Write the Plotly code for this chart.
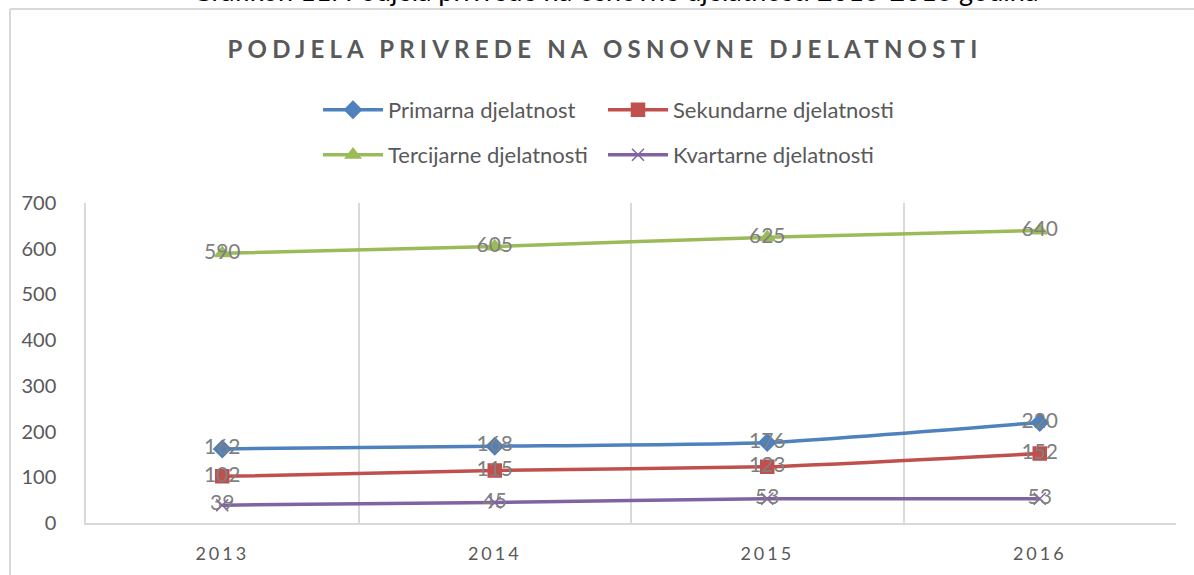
import plotly.graph_objects as go

# 데이터
years = ["2013", "2014", "2015", "2016"]
primarna = [162, 168, 176, 220]
sekundarne = [102, 115, 123, 152]
tercijarne = [590, 605, 625, 640]
kvartarne = [39, 45, 53, 53]

W, H = 1194, 575
L, R, T, B = 86, 18, 203, 52
PH = H - T - B
PW = W - L - R


def py(p):
    # pixel row -> paper y
    return (H - B - p) / PH


def px(p):
    # pixel column -> paper x
    return (p - L) / PW


FONT = "Lato"
GRAY = "#595959"
LABEL = "#7f7f7f"

fig = go.Figure()

# (ime, vrijednosti, boja, simbol, velicina, legenda, polozaj legende u px)
series = [
    ("Primarna djelatnost", primarna, "#4f81bd", "diamond", 13, "legend", (318, 110)),
    ("Sekundarne djelatnosti", sekundarne, "#c0504d", "square", 13, "legend2", (603, 110)),
    ("Tercijarne djelatnosti", tercijarne, "#9bbb59", "triangle-up", 13, "legend3", (318, 155)),
    ("Kvartarne djelatnosti", kvartarne, "#8064a2", "x-thin-open", 12, "legend4", (603, 155)),
]

legends = {}
for name, vals, color, sym, size, leg, (lx, ly) in series:
    fig.add_trace(go.Scatter(
        x=years, y=vals, name=name, legend=leg,
        mode="lines+markers+text",
        line=dict(color=color, width=3.5, shape="spline", smoothing=0.5),
        marker=dict(symbol=sym, size=size, color=color,
                    line=dict(color=color, width=1.5)),
        text=[str(v) for v in vals],
        textposition="middle center",
        textfont=dict(family=FONT, size=21, color=LABEL),
        cliponaxis=False,
    ))
    legends[leg] = dict(
        x=px(lx), xanchor="left", y=py(ly), yanchor="middle",
        itemwidth=60, bgcolor="rgba(0,0,0,0)",
        font=dict(family=FONT, size=22, color=GRAY),
    )

fig.update_layout(
    width=W, height=H,
    margin=dict(l=L, r=R, t=T, b=B, autoexpand=False),
    paper_bgcolor="white", plot_bgcolor="white",
    font=dict(family=FONT, color=GRAY),
    title=dict(
        text="<b>PODJELA PRIVREDE NA OSNOVNE DJELATNOSTI</b>",
        x=605 / W, xanchor="center",
        y=1 - 50 / H, yanchor="middle",
        font=dict(family=FONT, size=24, color=GRAY),
    ),
    showlegend=True,
    **legends,
)

fig.update_xaxes(
    type="category", tickson="boundaries", range=[-0.5, 3.5],
    showgrid=True, gridcolor="#d9d9d9", gridwidth=1.5,
    showline=True, linecolor="#d9d9d9", linewidth=1.5,
    ticks="", ticklabelstandoff=14, automargin=False,
    tickfont=dict(family=FONT, size=18, color=GRAY),
)
fig.update_yaxes(
    range=[0, 700], dtick=100, showgrid=False, zeroline=False,
    showline=True, linecolor="#d9d9d9", linewidth=1.5,
    ticks="", ticklabelstandoff=24, automargin=False,
    tickfont=dict(family=FONT, size=20, color=GRAY),
)

# okvir grafikona (lijevi i gornji rub)
fig.add_shape(type="line", xref="paper", yref="paper",
              x0=px(10), x1=px(10), y0=py(9), y1=py(H + 5),
              line=dict(color="#d9d9d9", width=2))
fig.add_shape(type="line", xref="paper", yref="paper",
              x0=px(10), x1=px(W + 5), y0=py(9), y1=py(9),
              line=dict(color="#d9d9d9", width=2))

# naslov iznad grafikona, odrezan na vrhu
fig.add_annotation(
    text="Grafikon 11: Podjela privrede na osnovne djelatnosti 2013-2016 godina",
    xref="paper", yref="paper", x=px(615), y=py(-10),
    xanchor="center", yanchor="middle", showarrow=False,
    font=dict(family=FONT, size=27, color="#000000"),
)

page_js = (
    "document.body.style.margin='0';"
    "document.querySelectorAll('.gtitle').forEach(function(t){t.style.letterSpacing='5.2px';});"
    "document.querySelectorAll('.xtick text').forEach(function(t){t.style.letterSpacing='3px';});"
)

fig.write_html("out.html", post_script=page_js, config={"displayModeBar": False})
